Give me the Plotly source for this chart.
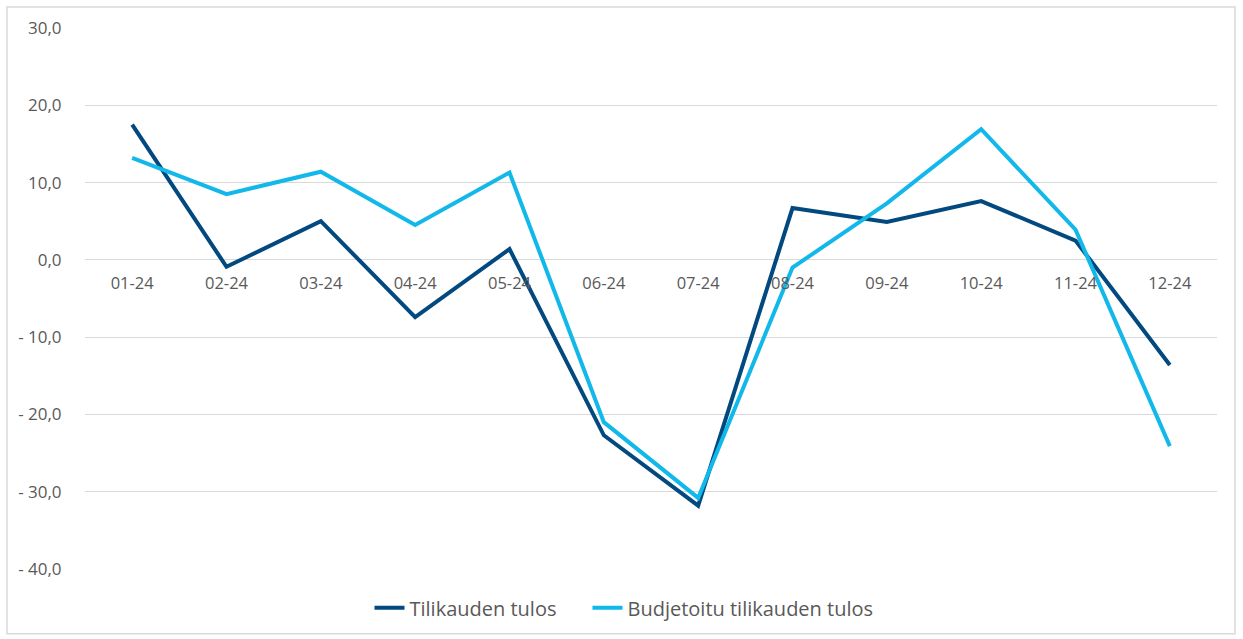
import plotly.graph_objects as go

months = ["01-24", "02-24", "03-24", "04-24", "05-24", "06-24",
          "07-24", "08-24", "09-24", "10-24", "11-24", "12-24"]
tulos = [17.5, -0.9, 5.0, -7.4, 1.4, -22.7, -31.8, 6.7, 4.9, 7.6, 2.5, -13.6]
budjetti = [13.2, 8.5, 11.4, 4.5, 11.3, -21.0, -30.8, -1.0, 7.3, 16.9, 3.9, -24.1]
y_ticks = [-40, -30, -20, -10, 0, 10, 20, 30]
y_ticktext = ["- 40,0", "- 30,0", "- 20,0", "- 10,0", "0,0", "10,0", "20,0", "30,0"]
series_names = ["Tilikauden tulos", "Budjetoitu tilikauden tulos"]

FONT = "'Open Sans', Lato, sans-serif"
W, H = 1243, 639
L, R, T, B = 85, 26, 28, 67
pw, ph = W - L - R, H - T - B

fig = go.Figure()
fig.add_trace(go.Scatter(x=months, y=tulos, mode="lines",
                         name=series_names[0] + "\u00a0" * 5,
                         line=dict(color="#02497F", width=4)))
fig.add_trace(go.Scatter(x=months, y=budjetti, mode="lines", name=series_names[1],
                         line=dict(color="#12B8EA", width=4)))

ymin, ymax = -40, 30
zero_pos = (0 - ymin) / (ymax - ymin)

fig.update_layout(
    width=W, height=H,
    margin=dict(l=L, r=R, t=T, b=B),
    plot_bgcolor="white", paper_bgcolor="white",
    font=dict(family=FONT, color="#595959", size=16),
    showlegend=True,
    legend=dict(orientation="h", x=(624 - L) / pw, xanchor="center",
                y=(T + ph - 611) / ph, yanchor="middle",
                font=dict(size=20, color="#595959"), itemwidth=30,
                tracegroupgap=0),
    xaxis=dict(type="category", anchor="free", position=zero_pos,
               showgrid=False, showline=False, zeroline=False,
               ticks="outside", ticklen=8, tickcolor="rgba(0,0,0,0)",
               tickfont=dict(size=16.5, color="#595959"), range=[-0.5, 11.5]),
    yaxis=dict(range=[ymin, ymax], tickvals=y_ticks, ticktext=y_ticktext,
               showgrid=True, gridcolor="#d9d9d9", gridwidth=1,
               zeroline=True, zerolinecolor="#d9d9d9", zerolinewidth=1,
               showline=False, ticks="outside", ticklen=19, tickcolor="rgba(0,0,0,0)",
               tickfont=dict(size=17, color="#595959")),
)

fig.add_shape(type="rect", xref="paper", yref="paper",
              x0=(7 - L) / pw, x1=(1235 - L) / pw,
              y0=(T + ph - 637) / ph, y1=(T + ph - 7) / ph,
              line=dict(color="#d9d9d9", width=1.5), fillcolor="rgba(0,0,0,0)", layer="below")

fig.write_html("out.html", config={"displayModeBar": False},
               post_script="document.body.style.margin='0';document.body.style.overflow='hidden';")
